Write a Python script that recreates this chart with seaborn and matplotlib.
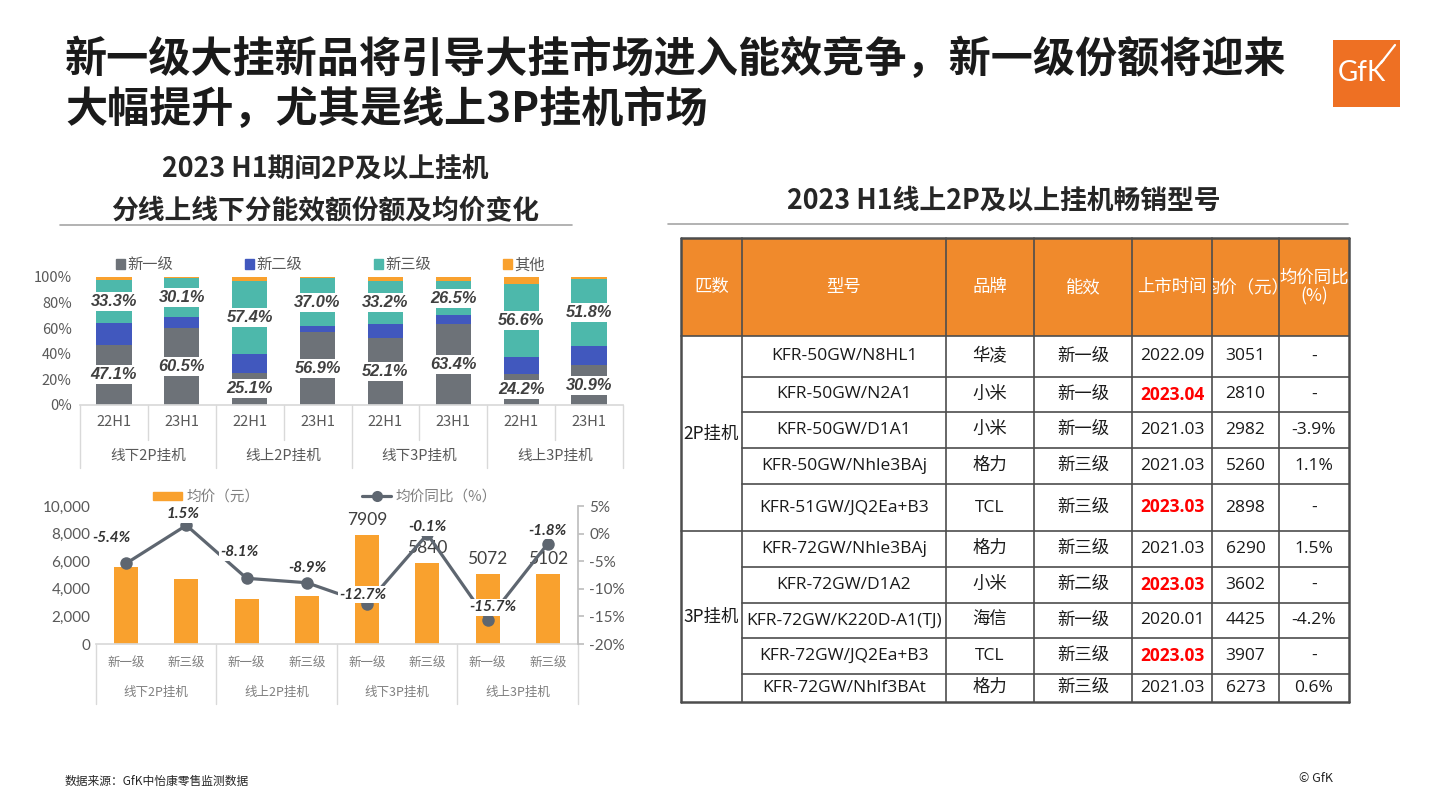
import matplotlib
matplotlib.use("Agg")
import matplotlib.pyplot as plt
import seaborn as sns
import pandas as pd
import numpy as np
from matplotlib.patches import Patch, Rectangle
from matplotlib.lines import Line2D
from matplotlib.transforms import Bbox, TransformedBbox

# ---- stacked share chart data (%) ----
share_groups = ["线下2P挂机", "线上2P挂机", "线下3P挂机", "线上3P挂机"]
share_periods = ["22H1", "23H1"]
grade_names = ["新一级", "新二级", "新三级", "其他"]
share_grade1 = [47.1, 60.5, 25.1, 56.9, 52.1, 63.4, 24.2, 30.9]
share_grade2 = [17.0, 8.5, 14.7, 5.0, 11.2, 6.9, 13.6, 15.4]
share_grade3 = [33.3, 30.1, 57.4, 37.0, 33.2, 26.5, 56.6, 51.8]
share_other = [2.6, 0.9, 2.8, 1.1, 3.5, 3.2, 5.6, 1.9]

# ---- average price chart data ----
price_grades = ["新一级", "新三级"]
avg_price = [5600, 4680, 3250, 3470, 7909, 5840, 5072, 5102]
price_yoy = [-5.4, 1.5, -8.1, -8.9, -12.7, -0.1, -15.7, -1.8]
price_label_shown = [False, False, False, False, True, True, True, True]

# ---- table data ----
table_header = ["匹数", "型号", "品牌", "能效", "上市时间", "均价（元）", "均价同比\n(%)"]
table_power = ["2P挂机", "3P挂机"]
table_power_rows = [5, 5]
table_model = ["KFR-50GW/N8HL1", "KFR-50GW/N2A1", "KFR-50GW/D1A1", "KFR-50GW/Nhle3BAj",
               "KFR-51GW/JQ2Ea+B3", "KFR-72GW/Nhle3BAj", "KFR-72GW/D1A2",
               "KFR-72GW/K220D-A1(TJ)", "KFR-72GW/JQ2Ea+B3", "KFR-72GW/Nhlf3BAt"]
table_brand = ["华凌", "小米", "小米", "格力", "TCL", "格力", "小米", "海信", "TCL", "格力"]
table_grade = ["新一级", "新一级", "新一级", "新三级", "新三级", "新三级", "新二级", "新一级", "新三级", "新三级"]
table_date = ["2022.09", "2023.04", "2021.03", "2021.03", "2023.03", "2021.03", "2023.03",
              "2020.01", "2023.03", "2021.03"]
table_new = [False, True, False, False, True, False, True, False, True, False]
table_price = ["3051", "2810", "2982", "5260", "2898", "6290", "3602", "4425", "3907", "6273"]
table_yoy = ["-", "-", "-3.9%", "1.1%", "-", "1.5%", "-", "-4.2%", "-", "0.6%"]

share_colors = {"新一级": "#6D7278", "新二级": "#4158BE", "新三级": "#4DB8AB", "其他": "#F9A12E"}
price_color = "#F9A12E"
line_color = "#5E6670"
gfk_orange = "#EE7023"
txt_gray = "#595959"

sns.set_theme(style="white")
plt.rcParams["font.family"] = ["Noto Sans CJK SC", "DejaVu Sans"]
LATO = ["Lato", "Noto Sans CJK SC", "DejaVu Sans"]

W, H = 1441, 810
fig = plt.figure(figsize=(W / 100, H / 100), dpi=100)


def fx(x):
    return x / W


def fy(y):
    return 1 - y / H


def axes_rect(l, t, r, b):
    return [fx(l), fy(b), (r - l) / W, (b - t) / H]


# background overlay in pixel coordinates (titles, table, logo)
bg = fig.add_axes([0, 0, 1, 1], zorder=-5)
bg.set_xlim(0, W)
bg.set_ylim(H, 0)
bg.axis("off")

# ---- titles ----
fig.text(fx(65), fy(60), "新一级大挂新品将引导大挂市场进入能效竞争，新一级份额将迎来",
         fontsize=30.3, fontweight="bold", color="#1A1A1A", va="center", ha="left")
fig.text(fx(65), fy(110), "大幅提升，尤其是线上3P挂机市场",
         fontsize=30.3, fontweight="bold", color="#1A1A1A", va="center", ha="left")

bg.add_patch(Rectangle((1333, 40), 67, 67, fc=gfk_orange, ec="none"))
bg.text(1362, 73, "GfK", color="white", fontsize=20, ha="center", va="center", family=LATO)
bg.plot([1381, 1395], [63, 45], color="white", lw=1.6)

fig.text(fx(325), fy(168), "2023 H1期间2P及以上挂机", fontsize=19.3, fontweight="bold",
         color="#262626", ha="center", va="center")
fig.text(fx(325), fy(211), "分线上线下分能效额份额及均价变化", fontsize=19.3, fontweight="bold",
         color="#262626", ha="center", va="center")
bg.plot([60, 572], [225, 225], color="#A6A6A6", lw=1.2)
fig.text(fx(1004), fy(200), "2023 H1线上2P及以上挂机畅销型号", fontsize=19.3, fontweight="bold",
         color="#262626", ha="center", va="center")
bg.plot([668, 1348], [224, 224], color="#A6A6A6", lw=1.2)

fig.text(fx(65), fy(781), "数据来源：GfK中怡康零售监测数据", fontsize=8.5, color="#262626", va="center")
fig.text(fx(1333), fy(779), "© GfK", fontsize=9, color="#262626", va="center", ha="right")

# ---- stacked share chart ----
share_df = pd.DataFrame({
    "组": np.repeat(share_groups, len(share_periods)),
    "期间": share_periods * len(share_groups),
    "新一级": share_grade1,
    "新二级": share_grade2,
    "新三级": share_grade3,
    "其他": share_other,
})
share_df["key"] = share_df["组"] + "|" + share_df["期间"]
cum = share_df[grade_names].cumsum(axis=1) / 100
for name in grade_names:
    share_df["cum_" + name] = cum[name]

ax1 = fig.add_axes(axes_rect(80, 277, 623, 405))
for name in reversed(grade_names):
    sns.barplot(data=share_df, x="key", y="cum_" + name, color=share_colors[name], width=0.52,
                saturation=1, linewidth=0, errorbar=None, ax=ax1)
ax1.set_ylim(0, 1)
ax1.set_xlim(-0.5, len(share_df) - 0.5)
ax1.set_yticks(np.linspace(0, 1, 6))
ax1.set_yticklabels([f"{int(round(v * 100))}%" for v in np.linspace(0, 1, 6)])
ax1.tick_params(axis="y", length=0, labelsize=10.5, labelcolor=txt_gray, pad=6)
ax1.tick_params(axis="x", length=0, labelbottom=False)
ax1.set_xlabel("")
ax1.set_ylabel("")
for s in ["left", "right", "top"]:
    ax1.spines[s].set_visible(False)
ax1.spines["bottom"].set_color("#D9D9D9")

for i, row in share_df.iterrows():
    spots = [(row["新一级"], row["新一级"] / 2),
             (row["新三级"], row["新一级"] + row["新二级"] + row["新三级"] / 2)]
    for val, center in spots:
        ax1.text(i, center / 100, f"{val:.1f}%", ha="center", va="center", fontsize=11.8,
                 fontweight="bold", fontstyle="italic", color="#404040",
                 family=["Liberation Sans", "DejaVu Sans"], zorder=6,
                 bbox=dict(boxstyle="square,pad=0.12", fc="white", ec="none"))

t1 = ax1.get_xaxis_transform()
h1 = 128.0
for i, period in enumerate(share_df["期间"]):
    ax1.text(i, -17 / h1, period, transform=t1, ha="center", va="center", fontsize=10.5,
             color=txt_gray)
for g, grp in enumerate(share_groups):
    ax1.text(2 * g + 0.5, -51 / h1, grp, transform=t1, ha="center", va="center", fontsize=10.5,
             color=txt_gray)
for k, b in enumerate(np.arange(-0.5, len(share_df), 1)):
    depth = 63 if k % 2 == 0 else 35
    ax1.plot([b, b], [0, -depth / h1], transform=t1, clip_on=False, color="#D9D9D9", lw=1)

ax1.legend(handles=[Patch(color=share_colors[n], label=n) for n in grade_names], ncol=4,
           loc="center", bbox_to_anchor=(fx(330), fy(265)), bbox_transform=fig.transFigure,
           frameon=False, handlelength=0.6, handleheight=0.6, handletextpad=0.15,
           columnspacing=4.7, fontsize=11, labelcolor=txt_gray, borderpad=0)

# ---- average price chart ----
price_df = pd.DataFrame({
    "组": np.repeat(share_groups, len(price_grades)),
    "能效": price_grades * len(share_groups),
    "均价": avg_price,
    "同比": price_yoy,
})
price_df["key"] = price_df["组"] + "|" + price_df["能效"]
price_df["pos"] = np.arange(len(price_df))

ax2 = fig.add_axes(axes_rect(96, 506, 578, 644))
sns.barplot(data=price_df, x="key", y="均价", color=price_color, width=0.4, saturation=1,
            linewidth=0, errorbar=None, ax=ax2)
ax2.set_ylim(0, 10000)
ax2.set_yticks(range(0, 10001, 2000))
ax2.set_yticklabels([f"{v:,}" for v in range(0, 10001, 2000)], family=LATO)
ax2.tick_params(axis="y", length=0, labelsize=11, labelcolor=txt_gray, pad=4)
ax2.tick_params(axis="x", length=0, labelbottom=False)
ax2.set_xlabel("")
ax2.set_ylabel("")
for s in ["left", "right", "top"]:
    ax2.spines[s].set_visible(False)
ax2.spines["bottom"].set_color("#D9D9D9")

for i, row in price_df.iterrows():
    if price_label_shown[i]:
        ax2.annotate(f"{row['均价']}", (i, row["均价"]), xytext=(0, 7), textcoords="offset pixels",
                     ha="center", va="bottom", fontsize=12.5, color="#404040", family=LATO)

ax2r = ax2.twinx()
sns.lineplot(data=price_df, x="pos", y="同比", ax=ax2r, color=line_color, linewidth=2.3,
             marker="o", markersize=9, markeredgewidth=0)
ax2r.set_ylim(-20, 5)
ax2r.set_xlim(-0.5, len(price_df) - 0.5)
ax2r.set_yticks(range(-20, 6, 5))
ax2r.set_yticklabels([f"{v}%" for v in range(-20, 6, 5)], family=LATO)
ax2r.tick_params(axis="y", length=4, color="#BFBFBF", labelsize=11, labelcolor=txt_gray, pad=4)
ax2r.set_xlabel("")
ax2r.set_ylabel("")
for s in ["left", "top", "bottom"]:
    ax2r.spines[s].set_visible(False)
ax2r.spines["right"].set_color("#BFBFBF")

yoy_label_offsets = [(-15, 25), (-3, 11), (-7, 26), (1, 15), (-4, 9), (0, 7), (5, 13), (0, 13)]
for i, row in price_df.iterrows():
    ax2r.annotate(f"{row['同比']:.1f}%", (i, row["同比"]), xytext=yoy_label_offsets[i],
                  textcoords="offset pixels", ha="center", va="center", fontsize=11,
                  fontweight="bold", fontstyle="italic", color="#333333", family=LATO, zorder=6,
                  bbox=dict(boxstyle="square,pad=0.1", fc="white", ec="none"))

t2 = ax2.get_xaxis_transform()
h2 = 138.0
for i, grade in enumerate(price_df["能效"]):
    ax2.text(i, -19 / h2, grade, transform=t2, ha="center", va="center", fontsize=9,
             color="#7F7F7F")
for g, grp in enumerate(share_groups):
    ax2.text(2 * g + 0.5, -48 / h2, grp, transform=t2, ha="center", va="center", fontsize=9,
             color="#7F7F7F")
for b in np.arange(-0.5, len(price_df), 2):
    ax2.plot([b, b], [0, -60 / h2], transform=t2, clip_on=False, color="#D9D9D9", lw=1)

fig.legend(handles=[Patch(color=price_color, label="均价（元）"),
                    Line2D([], [], color=line_color, lw=2.3, marker="o", markersize=8,
                           markeredgewidth=0, label="均价同比（%）")],
           ncol=2, loc="center", bbox_to_anchor=(fx(325), fy(497)), frameon=False,
           handlelength=2.0, handleheight=0.5, handletextpad=0.3, columnspacing=7.0,
           fontsize=10.5, labelcolor="#7F7F7F", borderpad=0)

# ---- table ----
col_edges = [681, 742, 946, 1034, 1132, 1212, 1279, 1349]
row_edges = [238, 336, 377, 412, 448, 484, 531, 567, 603, 638, 674, 702]
line_c = "#4D4D4D"
bg.add_patch(Rectangle((col_edges[0], row_edges[0]), col_edges[-1] - col_edges[0],
                       row_edges[1] - row_edges[0], fc="#F08A2C", ec="none"))

for c, label in enumerate(table_header):
    cx = (col_edges[c] + col_edges[c + 1]) / 2
    t = bg.text(cx, (row_edges[0] + row_edges[1]) / 2, label, ha="center", va="center",
                fontsize=12.5, color="white", linespacing=1.0)
    t.set_clip_box(TransformedBbox(Bbox([[col_edges[c] + 1, row_edges[0]],
                                         [col_edges[c + 1] - 1, row_edges[1]]]), bg.transData))
    t.set_clip_on(True)

start = 0
for p, n in zip(table_power, table_power_rows):
    ymid = (row_edges[1 + start] + row_edges[1 + start + n]) / 2
    bg.text((col_edges[0] + col_edges[1]) / 2, ymid, p, ha="center", va="center",
            fontsize=12.5, color="#1A1A1A")
    start += n

body_font = ["Open Sans", "Noto Sans CJK SC", "DejaVu Sans"]
for r in range(len(table_model)):
    ymid = (row_edges[r + 1] + row_edges[r + 2]) / 2
    cells = [table_model[r], table_brand[r], table_grade[r], table_date[r], table_price[r], table_yoy[r]]
    for c, val in enumerate(cells, start=1):
        cx = (col_edges[c] + col_edges[c + 1]) / 2
        is_new = (c == 4 and table_new[r])
        bg.text(cx, ymid, val, ha="center", va="center", fontsize=12.5,
                color="#FF0000" if is_new else "#1A1A1A",
                fontweight="bold" if is_new else "normal", family=body_font)

for x in col_edges:
    lw = 1.8 if x in (col_edges[0], col_edges[-1]) else 1.2
    bg.plot([x, x], [row_edges[0], row_edges[-1]], color=line_c, lw=lw)
group_bounds = [row_edges[1 + table_power_rows[0]]]
for k, y in enumerate(row_edges):
    if k in (0, 1, len(row_edges) - 1) or y in group_bounds:
        lw = 1.8 if k in (0, len(row_edges) - 1) else 1.2
        bg.plot([col_edges[0], col_edges[-1]], [y, y], color=line_c, lw=lw)
    else:
        bg.plot([col_edges[1], col_edges[-1]], [y, y], color=line_c, lw=1.2)

fig.savefig("out.png", dpi=100, facecolor="white")
